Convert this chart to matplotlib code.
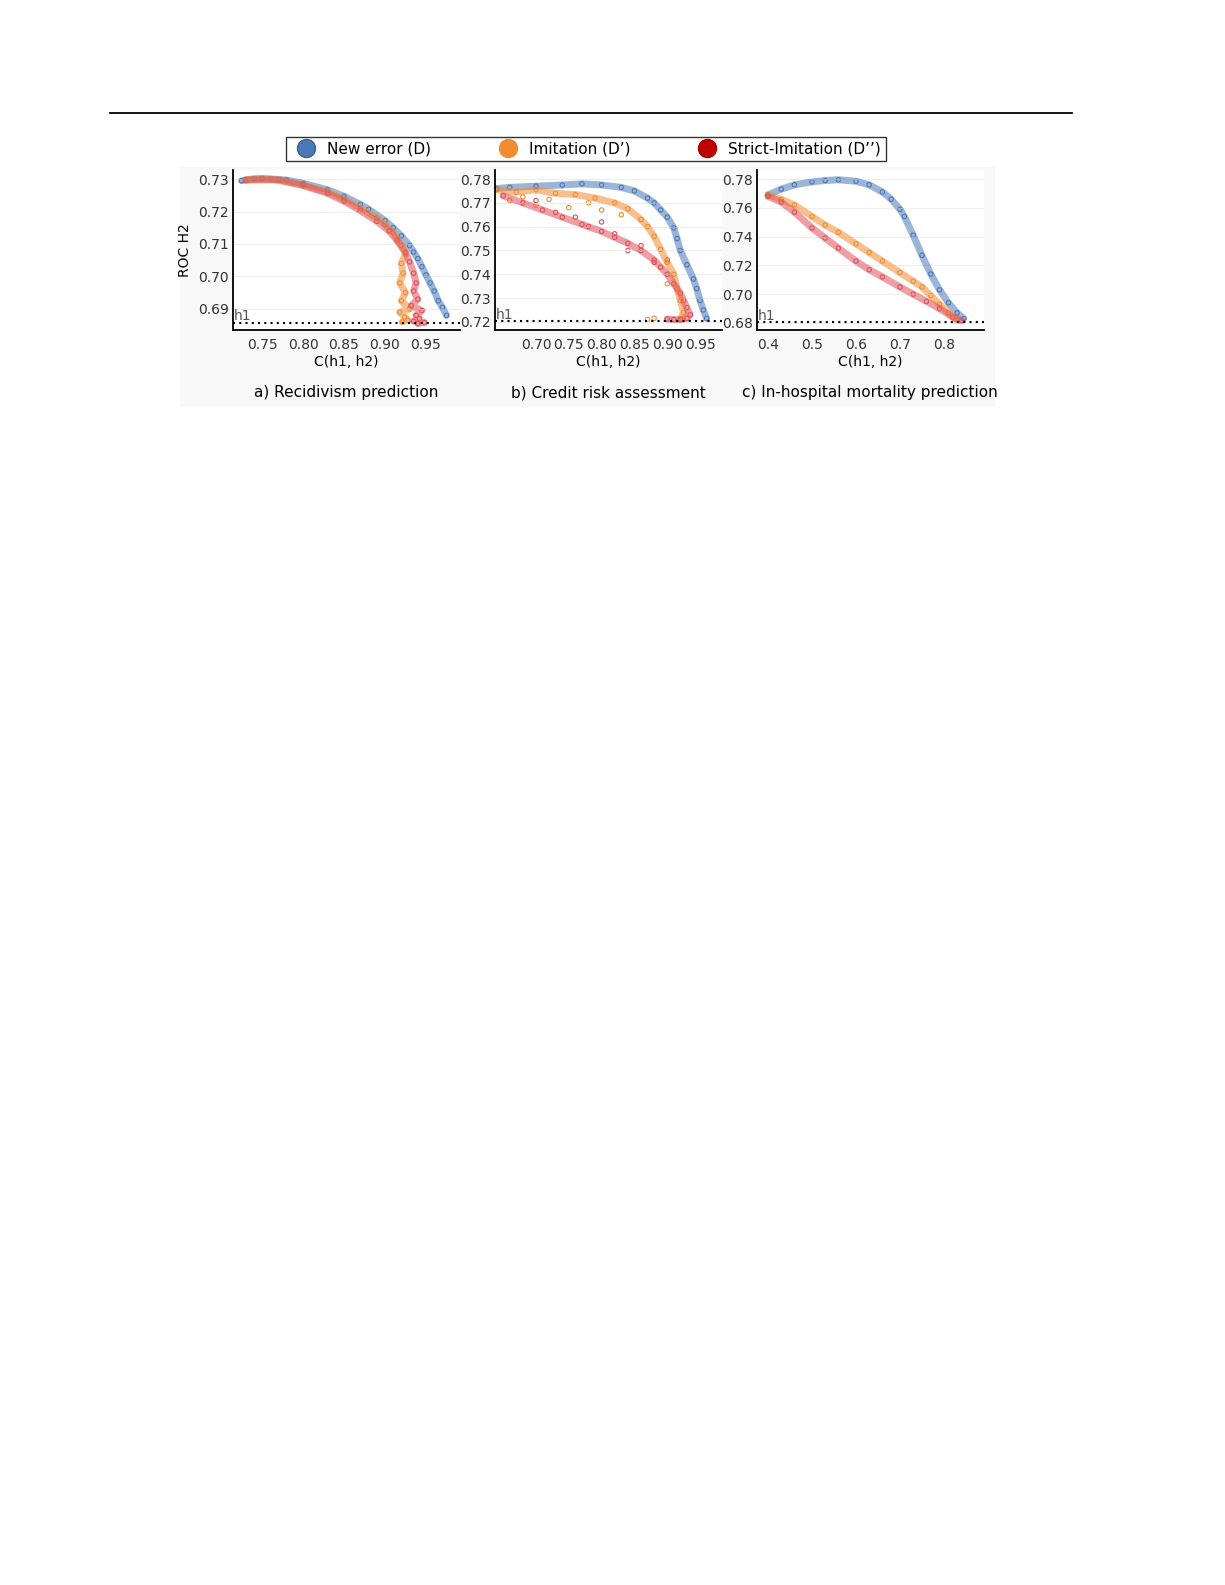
import matplotlib.pyplot as plt
from matplotlib.lines import Line2D

BLUE = '#4a78b8'
ORANGE = '#f28c30'
RED = '#e0505a'

# panel a) recidivism
a_blue_x = [0.725, 0.74, 0.75, 0.78, 0.80, 0.83, 0.85, 0.87, 0.88, 0.90, 0.91, 0.92, 0.93, 0.935, 0.94, 0.945, 0.95, 0.955, 0.96, 0.965, 0.97, 0.975]
a_blue_y = [0.7295, 0.7301, 0.7302, 0.7297, 0.7287, 0.7267, 0.7247, 0.7222, 0.7207, 0.7172, 0.7150, 0.7125, 0.7095, 0.7075, 0.7055, 0.7030, 0.7005, 0.6980, 0.6955, 0.6925, 0.6905, 0.6880]
a_orange_x = [0.73, 0.76, 0.80, 0.83, 0.85, 0.87, 0.89, 0.90, 0.91, 0.915, 0.92, 0.925, 0.92, 0.922, 0.918, 0.925, 0.92, 0.93, 0.918, 0.924, 0.928, 0.921]
a_orange_y = [0.7298, 0.7300, 0.7282, 0.7260, 0.7238, 0.7210, 0.7180, 0.7160, 0.7135, 0.7115, 0.7095, 0.7070, 0.7040, 0.7010, 0.6980, 0.6950, 0.6925, 0.6900, 0.6890, 0.6875, 0.6865, 0.6860]
a_red_x = [0.73, 0.77, 0.80, 0.83, 0.85, 0.87, 0.89, 0.905, 0.915, 0.925, 0.93, 0.935, 0.938, 0.935, 0.94, 0.932, 0.945, 0.938, 0.942, 0.935, 0.948, 0.94]
a_red_y = [0.7297, 0.7298, 0.7280, 0.7256, 0.7232, 0.7203, 0.7170, 0.7140, 0.7110, 0.7075, 0.7045, 0.7010, 0.6980, 0.6955, 0.6930, 0.6910, 0.6895, 0.6880, 0.6870, 0.6862, 0.6858, 0.6855]

# panel b) credit risk
b_blue_x = [0.64, 0.66, 0.70, 0.74, 0.77, 0.80, 0.83, 0.85, 0.87, 0.88, 0.89, 0.90, 0.91, 0.915, 0.92, 0.93, 0.94, 0.945, 0.95, 0.955, 0.96]
b_blue_y = [0.7760, 0.7765, 0.7770, 0.7775, 0.7780, 0.7775, 0.7765, 0.7750, 0.7720, 0.7700, 0.7670, 0.7640, 0.7595, 0.7550, 0.7500, 0.7440, 0.7380, 0.7340, 0.7290, 0.7250, 0.7215]
b_orange_x = [0.64, 0.67, 0.70, 0.73, 0.76, 0.79, 0.82, 0.84, 0.86, 0.87, 0.88, 0.89, 0.90, 0.91, 0.915, 0.92, 0.925, 0.92]
b_orange_y = [0.7755, 0.7745, 0.7755, 0.7740, 0.7735, 0.7720, 0.7700, 0.7675, 0.7630, 0.7600, 0.7560, 0.7505, 0.7450, 0.7400, 0.7340, 0.7290, 0.7240, 0.7210]
b_orange_loose_x = [0.66, 0.68, 0.70, 0.72, 0.75, 0.78, 0.80, 0.83, 0.87, 0.88, 0.90]
b_orange_loose_y = [0.7710, 0.7725, 0.7690, 0.7715, 0.7680, 0.7700, 0.7670, 0.7650, 0.7210, 0.7215, 0.7360]
b_red_x = [0.65, 0.68, 0.71, 0.74, 0.77, 0.80, 0.82, 0.84, 0.86, 0.88, 0.89, 0.90, 0.91, 0.92, 0.925, 0.93, 0.935, 0.93, 0.92, 0.91, 0.90]
b_red_y = [0.7730, 0.7700, 0.7670, 0.7640, 0.7610, 0.7580, 0.7555, 0.7530, 0.7500, 0.7460, 0.7430, 0.7400, 0.7360, 0.7320, 0.7290, 0.7260, 0.7230, 0.7215, 0.7210, 0.7210, 0.7212]
b_red_loose_x = [0.70, 0.73, 0.76, 0.78, 0.80, 0.82, 0.84, 0.86, 0.88, 0.90]
b_red_loose_y = [0.7710, 0.7660, 0.7640, 0.7600, 0.7620, 0.7570, 0.7500, 0.7520, 0.7450, 0.7460]

# panel c) in-hospital mortality
c_blue_x = [0.40, 0.43, 0.46, 0.50, 0.53, 0.56, 0.60, 0.63, 0.66, 0.68, 0.70, 0.71, 0.73, 0.75, 0.77, 0.79, 0.81, 0.83, 0.845]
c_blue_y = [0.7690, 0.7730, 0.7760, 0.7780, 0.7790, 0.7795, 0.7785, 0.7760, 0.7710, 0.7660, 0.7590, 0.7540, 0.7410, 0.7270, 0.7140, 0.7030, 0.6940, 0.6870, 0.6830]
c_orange_x = [0.40, 0.43, 0.46, 0.50, 0.53, 0.56, 0.60, 0.63, 0.66, 0.70, 0.73, 0.75, 0.77, 0.79, 0.81, 0.83]
c_orange_y = [0.7690, 0.7660, 0.7620, 0.7540, 0.7480, 0.7430, 0.7350, 0.7290, 0.7230, 0.7150, 0.7090, 0.7050, 0.6990, 0.6930, 0.6870, 0.6820]
c_red_x = [0.40, 0.43, 0.46, 0.50, 0.53, 0.56, 0.60, 0.63, 0.66, 0.70, 0.73, 0.76, 0.79, 0.82, 0.84]
c_red_y = [0.7680, 0.7640, 0.7570, 0.7460, 0.7390, 0.7320, 0.7230, 0.7170, 0.7120, 0.7050, 0.7000, 0.6950, 0.6900, 0.6840, 0.6815]

panels = [
    dict(series=[(a_blue_x, a_blue_y, BLUE), (a_orange_x, a_orange_y, ORANGE), (a_red_x, a_red_y, RED)], loose=[],
         xlim=(0.7146, 0.9915), ylim=(0.6835, 0.7328), h1=0.6857,
         xticks=[0.75, 0.80, 0.85, 0.90, 0.95], yticks=[0.69, 0.70, 0.71, 0.72, 0.73], xfmt='{:.2f}',
         left=233, caption='a) Recidivism prediction'),
    dict(series=[(b_blue_x, b_blue_y, BLUE), (b_orange_x, b_orange_y, ORANGE), (b_red_x, b_red_y, RED)],
         loose=[(b_orange_loose_x, b_orange_loose_y, ORANGE), (b_red_loose_x, b_red_loose_y, RED)],
         xlim=(0.6375, 0.9835), ylim=(0.7166, 0.7838), h1=0.7204,
         xticks=[0.70, 0.75, 0.80, 0.85, 0.90, 0.95], yticks=[0.72, 0.73, 0.74, 0.75, 0.76, 0.77, 0.78], xfmt='{:.2f}',
         left=495, caption='b) Credit risk assessment'),
    dict(series=[(c_blue_x, c_blue_y, BLUE), (c_orange_x, c_orange_y, ORANGE), (c_red_x, c_red_y, RED)], loose=[],
         xlim=(0.375, 0.891), ylim=(0.6751, 0.7863), h1=0.6807,
         xticks=[0.4, 0.5, 0.6, 0.7, 0.8], yticks=[0.68, 0.70, 0.72, 0.74, 0.76, 0.78], xfmt='{:.1f}',
         left=757, caption='c) In-hospital mortality prediction'),
]

W, H = 1225, 1585
fig = plt.figure(figsize=(W / 100, H / 100), dpi=100)

# top rule of the page
fig.add_artist(Line2D([110 / W, 1072 / W], [1 - 113 / H, 1 - 113 / H], color='black', lw=1.3))

# faint figure background
bg = fig.add_axes([180 / W, 1 - 407 / H, 815 / W, 240 / H])
bg.set_facecolor('#f8f8f8')
bg.set_xticks([]); bg.set_yticks([])
for s in bg.spines.values():
    s.set_visible(False)
bg.set_zorder(-5)

for i, p in enumerate(panels):
    ax = fig.add_axes([p['left'] / W, 1 - 330 / H, 227 / W, 160 / H])
    ax.set_facecolor('white')
    for x, y, c in p['series']:
        ax.plot(x, y, color=c, lw=5, alpha=0.55, solid_capstyle='round')
        ax.scatter(x, y, s=10, facecolors='none', edgecolors=c, linewidths=0.8)
    for x, y, c in p['loose']:
        ax.scatter(x, y, s=10, facecolors='none', edgecolors=c, linewidths=0.8)
    ax.axhline(p['h1'], color='black', ls=(0, (1, 2)), lw=1.5)
    ax.text(0.005, p['h1'] + (p['ylim'][1] - p['ylim'][0]) * 0.015, 'h1', transform=ax.get_yaxis_transform(),
            color='#555555', fontsize=10)
    ax.set_xlim(*p['xlim']); ax.set_ylim(*p['ylim'])
    ax.set_xticks(p['xticks']); ax.set_xticklabels([p['xfmt'].format(v) for v in p['xticks']])
    ax.set_yticks(p['yticks']); ax.set_yticklabels(['{:.2f}'.format(v) for v in p['yticks']])
    ax.tick_params(length=0, labelsize=10, labelcolor='#333333', pad=3)
    ax.tick_params(axis='x', pad=6)
    ax.grid(axis='y', color='#eeeeee', lw=0.8)
    for s in ['top', 'right']:
        ax.spines[s].set_visible(False)
    ax.spines['left'].set_linewidth(1.3)
    ax.spines['bottom'].set_linewidth(1.3)
    ax.set_xlabel('C(h1, h2)', fontsize=10, labelpad=2)
    if i == 0:
        ax.set_ylabel('ROC H2', fontsize=10, labelpad=4)
    fig.text((p['left'] + 113) / W, 1 - 393 / H, p['caption'], ha='center', va='center', fontsize=11)

handles = [Line2D([], [], marker='o', ls='none', markersize=13, markerfacecolor=c, markeredgecolor=e)
           for c, e in [(BLUE, '#3a5f95'), (ORANGE, ORANGE), ('#c00000', '#a00000')]]
fig.legend(handles, ['New error (D)', 'Imitation (D\u2019)', 'Strict-Imitation (D\u2019\u2019)'],
           loc='center', bbox_to_anchor=(586 / W, 1 - 149 / H), ncol=3, fontsize=11,
           frameon=True, fancybox=False, edgecolor='black', columnspacing=4.0, handletextpad=0.4,
           borderpad=0.3)

fig.savefig('out.png', dpi=100, facecolor='white')
